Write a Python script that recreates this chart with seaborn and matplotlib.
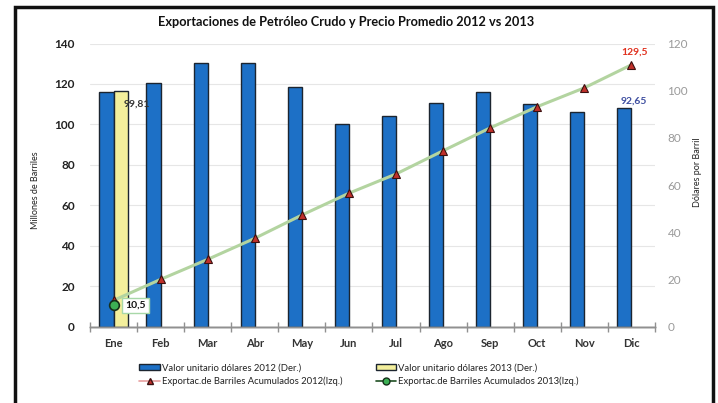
import numpy as np
import pandas as pd
import seaborn as sns
import matplotlib.pyplot as plt
from matplotlib.patches import Rectangle, Patch
from matplotlib.lines import Line2D
from matplotlib.ticker import MultipleLocator, FixedLocator

# datos
meses = ['Ene', 'Feb', 'Mar', 'Abr', 'May', 'Jun', 'Jul', 'Ago', 'Sep', 'Oct', 'Nov', 'Dic']
valor_2012 = [99.5, 103.1, 111.8, 111.6, 101.4, 85.9, 89.4, 94.9, 99.3, 94.3, 91.1, 92.65]
valor_2013 = [99.81]  # solo enero
acum_2012 = [13.0, 23.4, 33.3, 43.7, 55.2, 66.0, 75.5, 87.0, 98.3, 108.8, 118.1, 129.5]
acum_2013 = [10.5]

sns.set_style('white')
plt.rcParams['font.family'] = ['Lato', 'DejaVu Sans']

azul = '#1d70c6'
amarillo = '#f3ef9c'
verde_linea = '#b3d4a0'
rojo = '#c0302a'

df = pd.DataFrame({
    'mes': meses + meses,
    'valor': valor_2012 + valor_2013 + [np.nan] * (len(meses) - len(valor_2013)),
    'anio': ['2012'] * len(meses) + ['2013'] * len(meses),
})

fig = plt.figure(figsize=(7.18, 4.03), dpi=100)
ax = fig.add_axes([0.1253, 0.1893, 0.787, 0.7027])
ax2 = ax.twinx()
ax3 = ax.twinx()

# barras (eje derecho)
sns.barplot(data=df, x='mes', y='valor', hue='anio', order=meses,
            palette={'2012': azul, '2013': amarillo}, width=0.6, saturation=1,
            edgecolor='#1c2530', linewidth=1, legend=False, ax=ax2)

# linea acumulada (eje izquierdo)
xs = np.arange(len(meses))
sns.lineplot(x=xs, y=acum_2012, ax=ax3, color=verde_linea, linewidth=2.2,
             marker='^', markersize=6, markerfacecolor=rojo,
             markeredgecolor='#3a1010', markeredgewidth=0.8)
ax3.plot(xs[:len(acum_2013)], acum_2013, marker='o', markersize=7,
         markerfacecolor='#3cb054', markeredgecolor='#15301a', markeredgewidth=1.2,
         linestyle='none', zorder=5)

for a in (ax, ax3):
    a.set_ylim(0, 140)
ax2.set_ylim(0, 120)

# grid y ejes
ax.yaxis.set_major_locator(MultipleLocator(20))
ax.grid(axis='y', color='#e6e6e6', linewidth=0.8)
ax.tick_params(axis='y', length=0, pad=11, labelsize=8.5, labelcolor='#222222')
for lab in ax.get_yticklabels():
    lab.set_fontweight('bold')

ax.set_xticks(xs)
ax.set_xticklabels(meses)
ax.set_xlim(-0.5, len(meses) - 0.5)
ax.tick_params(axis='x', length=0, pad=8, labelsize=8, labelcolor='#333333')
for lab in ax.get_xticklabels():
    lab.set_fontweight('bold')
ax.xaxis.set_minor_locator(FixedLocator(np.arange(-0.5, len(meses), 1.0)))
ax.tick_params(axis='x', which='minor', bottom=True, length=7, direction='inout',
               color='#909090', width=1)

ax2.yaxis.set_major_locator(MultipleLocator(20))
ax2.tick_params(axis='y', length=0, pad=9, labelsize=8.5, labelcolor='#9a9a9a')
ax2.set_ylabel('')
ax2.set_xlabel('')

ax3.set_yticks([])
ax3.set_ylabel('')

for a in (ax, ax2, ax3):
    for s in ('top', 'left', 'right'):
        a.spines[s].set_visible(False)
    a.spines['bottom'].set_color('#909090')
    a.spines['bottom'].set_linewidth(1)

# etiquetas de datos
ax2.annotate('99,81', xy=(0.15, valor_2013[0]), xytext=(12, -9), textcoords='offset points',
             ha='center', va='center', fontsize=7.5, fontweight='bold', color='#333333')
ax2.annotate('92,65', xy=(len(meses) - 1 - 0.15, valor_2012[-1]), xytext=(7, 5),
             textcoords='offset points', ha='center', va='center', fontsize=7.5,
             fontweight='bold', color='#3f4fa0')
ax3.annotate('129,5', xy=(len(meses) - 1, acum_2012[-1]), xytext=(2, 6),
             textcoords='offset points', ha='center', va='bottom', fontsize=7.5,
             fontweight='bold', color='#e0301e')
ax3.annotate('10,5', xy=(0, acum_2013[0]), xytext=(16, 0), textcoords='offset points',
             ha='center', va='center', fontsize=7.5, fontweight='bold', color='#111111',
             bbox=dict(boxstyle='square,pad=0.3', facecolor='white', edgecolor='#a8d8a8', linewidth=1))

# titulos
fig.text(0.482, 0.945, 'Exportaciones de Petróleo Crudo y Precio Promedio 2012 vs 2013',
         ha='center', va='center', fontsize=9.2, fontweight='bold', color='#111111')
fig.text(35 / 718, 1 - 190 / 403, 'Millones de Barriles', rotation=90,
         ha='center', va='center', fontsize=6.5, color='#222222')
fig.text(697 / 718, 1 - 172 / 403, 'Dólares por Barril', rotation=90,
         ha='center', va='center', fontsize=6.5, color='#222222')

# leyenda
handles = [
    Patch(facecolor=azul, edgecolor='#1c2530', linewidth=1),
    Line2D([], [], color='#e8a0a0', linewidth=1.2, marker='^', markersize=5,
           markerfacecolor=rojo, markeredgecolor='#3a1010'),
    Patch(facecolor=amarillo, edgecolor='#1c2530', linewidth=1),
    Line2D([], [], color='#1f4f22', linewidth=1.2, marker='o', markersize=5,
           markerfacecolor='#3cb054', markeredgecolor='#15301a'),
]
labels = ['Valor unitario dólares 2012 (Der.)',
          'Exportac.de Barriles Acumulados 2012(Izq.)',
          'Valor unitario dólares 2013 (Der.)',
          'Exportac.de Barriles Acumulados 2013(Izq.)']
fig.legend(handles, labels, loc='upper center', bbox_to_anchor=(0.5, 0.12), ncol=2,
           frameon=False, fontsize=6.8, handlelength=2.2, handleheight=0.6,
           handletextpad=0.2, columnspacing=3.5, labelspacing=0.5, labelcolor='#222222')

# marco
fig.patches.append(Rectangle((15 / 718, -0.02), (713 - 15) / 718, 1 - 7 / 403 + 0.02,
                             transform=fig.transFigure, fill=False, edgecolor='#111111',
                             linewidth=2.5))

fig.savefig('out.png', dpi=100)
